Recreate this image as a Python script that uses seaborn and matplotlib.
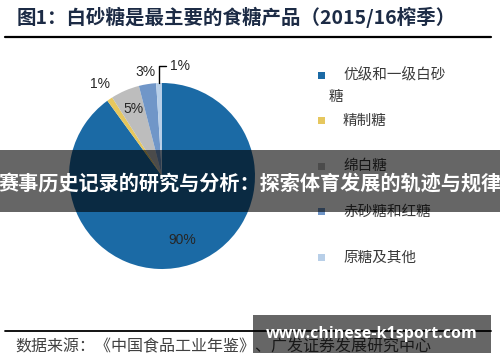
import matplotlib
matplotlib.use("Agg")
import numpy as np
import matplotlib.pyplot as plt
import seaborn as sns
from matplotlib.patches import Rectangle
from matplotlib.lines import Line2D

# Data
categories = ["优级和一级白砂糖", "精制糖", "绵白糖", "赤砂糖和红糖", "原糖及其他"]
shares = [90, 1, 5, 3, 1]
pct_labels = ["90%", "1%", "5%", "3%", "1%"]
colors = ["#1B6AA5", "#E6C75E", "#BDBDBD", "#7096C8", "#B8CFE8"]

title = "图1：白砂糖是最主要的食糖产品（2015/16榨季）"
source = "数据来源：《中国食品工业年鉴》、广发证券发展研究中心"
banner = "赛事历史记录的研究与分析：探索体育发展的轨迹与规律"
watermark = "www.chinese-k1sport.com"

sns.set_theme(style="white")
plt.rcParams["font.family"] = ["Noto Sans CJK SC", "DejaVu Sans"]

W, H = 500, 362
fig = plt.figure(figsize=(5, 3.62), dpi=100)
fig.patch.set_facecolor("white")


def fx(x):
    return x / W


def fy(y):
    return 1 - y / H


# Pie
cx, cy, r = 162, 176, 93
ax = fig.add_axes([fx(cx - r), fy(cy + r), 2 * r / W, 2 * r / H])
wedges, _ = ax.pie(shares, colors=colors, startangle=90, counterclock=False,
                   wedgeprops=dict(linewidth=0))
ax.set_xlim(-1, 1)
ax.set_ylim(-1, 1)

# label radius per slice (None -> leader line)
label_r = [0.72, 1.19, 0.78, 1.13, None]
pct_font = dict(fontsize=10, color="#262626", family=["Liberation Sans", "DejaVu Sans"])
for w, lab, lr in zip(wedges, pct_labels, label_r):
    theta = np.deg2rad((w.theta1 + w.theta2) / 2)
    if lr is not None:
        ax.text(lr * np.cos(theta), lr * np.sin(theta), lab, ha="center", va="center", **pct_font)
    else:
        ax.annotate(lab, xy=(np.cos(theta), np.sin(theta)), xytext=(0.09, 1.18),
                    ha="left", va="center", **pct_font,
                    arrowprops=dict(arrowstyle="-", color="black", lw=1,
                                    shrinkA=1, shrinkB=0,
                                    connectionstyle="angle,angleA=0,angleB=90,rad=0"))

# Legend drawn by hand to match the report layout
for i, (cat, col) in enumerate(zip(categories, colors)):
    y = 75 + i * 45.6
    fig.add_artist(Rectangle((fx(318), fy(y + 3.5)), 7 / W, 7 / H, facecolor=col,
                             edgecolor="none", zorder=3))
    first, rest = cat[:7], cat[7:]
    fig.text(fx(343), fy(y), first, ha="left", va="center", fontsize=10.5, color="#3a3a3a")
    if rest:
        fig.text(fx(329), fy(y + 22), rest, ha="left", va="center", fontsize=10.5, color="#3a3a3a")

# Title and rules
fig.text(fx(17), fy(17), title, ha="left", va="center", fontsize=14, fontweight="bold",
         color="#1c2b45")
fig.add_artist(Line2D([fx(5), fx(491)], [fy(37), fy(37)], color="black", lw=1.6))
fig.add_artist(Line2D([fx(5), fx(491)], [fy(331), fy(331)], color="black", lw=1.3))
fig.text(fx(15), fy(347), source, ha="left", va="center", fontsize=11.5, color="#404040")

# Overlay banner
fig.add_artist(Rectangle((0, fy(212)), 1, 62 / H, facecolor="black", alpha=0.6,
                         edgecolor="none", zorder=10))
fig.text(0.5, fy(183), banner, ha="center", va="center", fontsize=14.5, fontweight="bold",
         color="white", zorder=11)

# Watermark box
fig.add_artist(Rectangle((fx(253), fy(353)), 238 / W, 38 / H, facecolor="black", alpha=0.6,
                         edgecolor="none", zorder=10))
fig.text(fx(372), fy(334), watermark, ha="center", va="center", fontsize=11.5,
         fontweight="bold", color="white", family=["Open Sans", "DejaVu Sans"], zorder=11)

fig.savefig("out.png", dpi=100)
